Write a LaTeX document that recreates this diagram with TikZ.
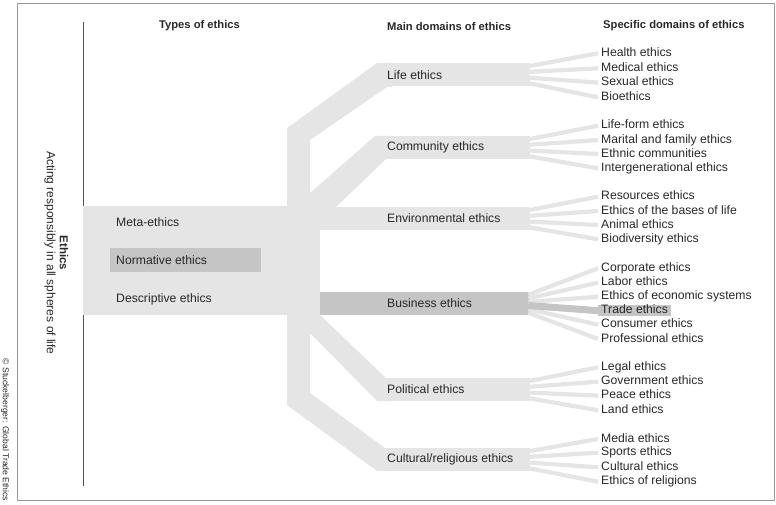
\documentclass[tikz,border=0pt]{standalone}
\usepackage{fontspec}
\setmainfont{Liberation Sans}
\definecolor{lightband}{RGB}{229,229,229}
\definecolor{darkband}{RGB}{197,197,197}
\definecolor{txt}{RGB}{40,40,40}
\definecolor{framecol}{RGB}{150,150,150}
\begin{document}
\begin{tikzpicture}[x=1pt,y=-1pt,
  band/.style={rectangle, fill=lightband, draw=none, minimum height=23pt, inner sep=0pt, anchor=north west},
  maintext/.style={anchor=west, inner sep=0pt, text=txt, font=\fontsize{12.2}{14}\selectfont},
  item/.style={anchor=west, inner xsep=3pt, inner ysep=0pt, text height=8.7pt, text depth=2.6pt, text=txt, font=\fontsize{12.2}{14}\selectfont},
  head/.style={inner sep=0pt, text=txt, font=\bfseries\fontsize{11.2}{13}\selectfont},
  fan/.style={draw=lightband, line width=4.2pt},
  tradefan/.style={draw=darkband, line width=7pt},
]
\useasboundingbox (0,0) rectangle (776,505);

% outer frame and the vertical rule
\draw[framecol, line width=0.9pt] (17,3) rectangle (774,500);
\coordinate (ruletop) at (83,22);
\coordinate (rulebot) at (83,486);
\draw[txt!80, line width=0.7pt] (ruletop) -- (rulebot);

% side titles
\node[rotate=-90, text=txt, font=\bfseries\fontsize{11.5}{13}\selectfont] (ethics) at (64,253) {Ethics};
\node[rotate=-90, text=txt, font=\fontsize{12}{14}\selectfont] (acting) at (50,253) {Acting responsibly in all spheres of life};
\node[rotate=-90, text=txt, font=\fontsize{8.6}{10}\selectfont] (copy) at (5,430) {© Stuckelberger: Global Trade Ethics};

% column headings
\node[head] (h1) at (199.5,26) {Types of ethics};
\node[head, anchor=west] (h2) at (387,26) {Main domains of ethics};
\node[head, anchor=west] (h3) at (603,26) {Specific domains of ethics};

% branches of the tree
\fill[lightband] (287,206) -- (287,128) -- (377,63) -- (392,63) -- (392,87) -- (387,87) -- (310,140) -- (310,206) -- cycle;
\fill[lightband] (310,207) -- (310,193) -- (375,136) -- (392,136) -- (392,159) -- (386,159) -- (336,207) -- cycle;
\fill[lightband] (310,315) -- (320,315) -- (386,378) -- (392,378) -- (392,401) -- (377,401) -- (310,333) -- cycle;
\fill[lightband] (287,315) -- (287,405) -- (377,471) -- (392,471) -- (392,448) -- (385,448) -- (310,393) -- (310,315) -- cycle;

% types of ethics
\node[band, minimum width=237pt, minimum height=109pt] (types) at (83,206) {};
\node[band, fill=darkband, minimum width=151pt, minimum height=24pt] (normbox) at (110,248) {};
\node[maintext] (meta) at (116,222) {Meta-ethics};
\node[maintext] (norm) at (116,260) {Normative ethics};
\node[maintext] (desc) at (116,299) {Descriptive ethics};

% main domains
\node[band, minimum width=153pt] (life) at (377,63) {};
\node[band, minimum width=153pt] (comm) at (377,136) {};
\node[band, minimum width=210pt] (env) at (320,207) {};
\node[band, fill=darkband, minimum width=210pt] (bus) at (320,292) {};
\node[band, minimum width=153pt] (pol) at (377,378) {};
\node[band, minimum width=153pt] (cult) at (377,448) {};

\node[maintext] (lifet) at (387,75) {Life ethics};
\node[maintext] (commt) at (387,147.5) {Community ethics};
\node[maintext] (envt) at (387,218.5) {Environmental ethics};
\node[maintext] (bust) at (387,303.5) {Business ethics};
\node[maintext] (polt) at (387,389.5) {Political ethics};
\node[maintext] (cultt) at (387,459.5) {Cultural/religious ethics};

% specific domains, each fanned out from its main domain
\foreach \n/\t/\y/\o in {health/Health ethics/53.3/8.4, medical/Medical ethics/68.3/2.8, sexual/Sexual ethics/82.7/-2.8, bio/Bioethics/97.3/-8.4} {
  \node[item] (\n) at (598,\y) {\t};
  \draw[fan] ([xshift=-2pt,yshift=\o pt]life.east) -- (\n.west);
}
\foreach \n/\t/\y/\o in {lifeform/Life-form ethics/125.7/8.4, marital/Marital and family ethics/140/2.8, ethnic/Ethnic communities/154/-2.8, intergen/Intergenerational ethics/168.3/-8.4} {
  \node[item] (\n) at (598,\y) {\t};
  \draw[fan] ([xshift=-2pt,yshift=\o pt]comm.east) -- (\n.west);
}
\foreach \n/\t/\y/\o in {resources/Resources ethics/196.7/8.4, bases/Ethics of the bases of life/211/2.8, animal/Animal ethics/225/-2.8, biodiv/Biodiversity ethics/239.3/-8.4} {
  \node[item] (\n) at (598,\y) {\t};
  \draw[fan] ([xshift=-2pt,yshift=\o pt]env.east) -- (\n.west);
}
\foreach \n/\t/\y/\o in {corporate/Corporate ethics/268.3/9, labor/Labor ethics/282.7/5.4, economic/Ethics of economic systems/296.7/1.8, consumer/Consumer ethics/324.7/-5.4, professional/Professional ethics/339/-9} {
  \node[item] (\n) at (598,\y) {\t};
  \draw[fan] ([xshift=-2pt,yshift=\o pt]bus.east) -- (\n.west);
}
\node[item] (trade) at (598,310.7) {\phantom{T}};
\draw[tradefan] ([xshift=-2pt,yshift=-1.8pt]bus.east) -- (trade.west);
\node[item, fill=darkband] (tradebox) at (598,310.7) {Trade ethics\hspace{3pt}};
\foreach \n/\t/\y/\o in {legal/Legal ethics/367.3/8.4, government/Government ethics/381.7/2.8, peace/Peace ethics/395.7/-2.8, land/Land ethics/410.3/-8.4} {
  \node[item] (\n) at (598,\y) {\t};
  \draw[fan] ([xshift=-2pt,yshift=\o pt]pol.east) -- (\n.west);
}
\foreach \n/\t/\y/\o in {media/Media ethics/439/8.4, sports/Sports ethics/452.7/2.8, cultural/Cultural ethics/467.3/-2.8, religions/Ethics of religions/481.7/-8.4} {
  \node[item] (\n) at (598,\y) {\t};
  \draw[fan] ([xshift=-2pt,yshift=\o pt]cult.east) -- (\n.west);
}
\end{tikzpicture}
\end{document}
